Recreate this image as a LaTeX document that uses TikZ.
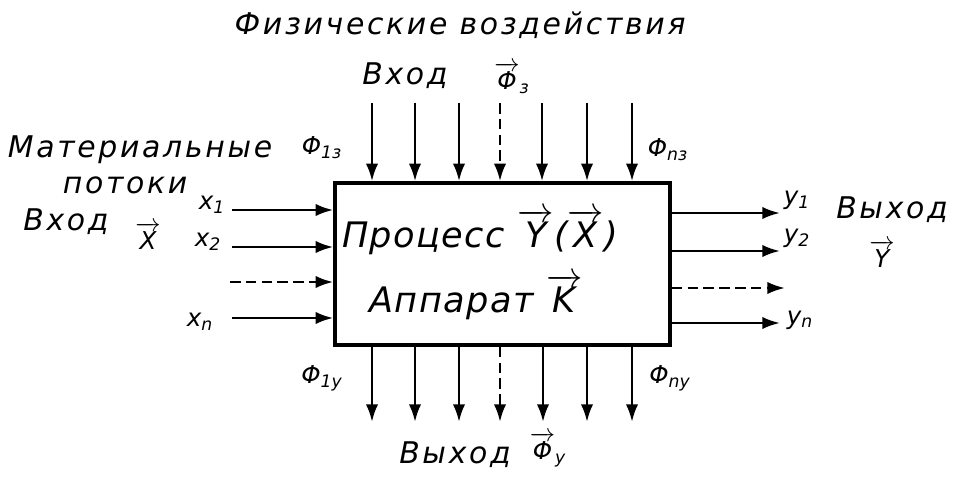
\documentclass[tikz,border=0pt]{standalone}
\usepackage{amsmath}
\usepackage{fontspec}
\setmainfont{DejaVu Sans}
\usetikzlibrary{arrows.meta, positioning}
\newcommand{\vecsym}[1]{$\overrightarrow{\text{#1}}$}

\begin{document}
\begin{tikzpicture}[
  x=0.02cm, y=-0.02cm,
  >={Latex[length=10pt, width=7pt]},
  flow/.style={->, line width=1.5pt},
  dflow/.style={->, line width=1.5pt, dash pattern=on 6pt off 3pt},
  procbox/.style={
    rectangle, draw, line width=2pt,
    minimum width=6.7cm, minimum height=3.24cm, inner sep=0pt
  },
  lbl/.style={font=\fontsize{17}{19}\selectfont\itshape\addfontfeatures{LetterSpace=9}, inner sep=0pt},
  sym/.style={font=\fontsize{14}{16}\selectfont\itshape, inner sep=0pt},
  inlbl/.style={font=\fontsize{20}{22}\selectfont\itshape\addfontfeatures{LetterSpace=4}, inner sep=0pt}
]
  \useasboundingbox (0,0) rectangle (953,479);
  \node[procbox] (box) at (502.5,264) {};
  \node[inlbl] (proc) at (480,232) {Процесс \vecsym{Y}(\vecsym{X})};
  \node[inlbl] (app)  at (476,297) {Аппарат \vecsym{K}};

  % physical inputs
  \node[lbl] (phys)  at (460,25) {Физические воздействия};
  \node[lbl] (inphi) at (405,76) {Вход};
  \node[sym] (phiz)  at (512,78) {\vecsym{Φ}\textsubscript{з}};
  \node[sym] (phi1z) at (322,148) {Φ\textsubscript{1з}};
  \node[sym] (phinz) at (668,150) {Φ\textsubscript{nз}};
  \coordinate (t1) at (372,103);
  \coordinate (t2) at (415,103);
  \coordinate (t3) at (459,103);
  \coordinate (t4) at (500,103);
  \coordinate (t5) at (542,103);
  \coordinate (t6) at (587,103);
  \coordinate (t7) at (632,103);
  \draw[flow]  (t1) -- (t1 |- box.north);
  \draw[flow]  (t2) -- (t2 |- box.north);
  \draw[flow]  (t3) -- (t3 |- box.north);
  \draw[dflow] (t4) -- (t4 |- box.north);
  \draw[flow]  (t5) -- (t5 |- box.north);
  \draw[flow]  (t6) -- (t6 |- box.north);
  \draw[flow]  (t7) -- (t7 |- box.north);

  % material inputs
  \node[lbl] (mat)  at (140,150) {Материальные};
  \node[lbl] (pot)  at (125,185) {потоки};
  \node[lbl] (inx)  at (66,222)  {Вход};
  \node[sym] (xvec) at (148,236) {\vecsym{X}};
  \node[sym] (x1) at (212,205) {x\textsubscript{1}};
  \node[sym] (x2) at (208,242) {x\textsubscript{2}};
  \node[sym] (xn) at (200,322) {x\textsubscript{n}};
  \coordinate (l1) at (232,210);
  \coordinate (l2) at (232,247);
  \coordinate (l3) at (230,282);
  \coordinate (l4) at (232,318);
  \draw[flow]  (l1) -- (l1 -| box.west);
  \draw[flow]  (l2) -- (l2 -| box.west);
  \draw[dflow] (l3) -- (l3 -| box.west);
  \draw[flow]  (l4) -- (l4 -| box.west);

  % material outputs
  \node[lbl] (outy) at (892,210) {Выход};
  \node[sym] (yvec) at (882,254) {\vecsym{Y}};
  \node[sym] (y1) at (797,200) {y\textsubscript{1}};
  \node[sym] (y2) at (797,238) {y\textsubscript{2}};
  \node[sym] (yn) at (800,320) {y\textsubscript{n}};
  \coordinate (r1) at (780,213);
  \coordinate (r2) at (780,251);
  \coordinate (r3) at (785,288);
  \coordinate (r4) at (780,323);
  \draw[flow]  (r1 -| box.east) -- (r1);
  \draw[flow]  (r2 -| box.east) -- (r2);
  \draw[dflow] (r3 -| box.east) -- (r3);
  \draw[flow]  (r4 -| box.east) -- (r4);

  % physical outputs
  \node[lbl] (outphi) at (455,455) {Выход};
  \node[sym] (phiy)   at (548,450) {\vecsym{Φ}\textsubscript{у}};
  \node[sym] (phi1y)  at (322,378) {Φ\textsubscript{1у}};
  \node[sym] (phiny)  at (670,378) {Φ\textsubscript{nу}};
  \coordinate (b1) at (372,422);
  \coordinate (b2) at (415,422);
  \coordinate (b3) at (459,422);
  \coordinate (b4) at (500,422);
  \coordinate (b5) at (543,422);
  \coordinate (b6) at (587,422);
  \coordinate (b7) at (632,422);
  \draw[flow]  (b1 |- box.south) -- (b1);
  \draw[flow]  (b2 |- box.south) -- (b2);
  \draw[flow]  (b3 |- box.south) -- (b3);
  \draw[dflow] (b4 |- box.south) -- (b4);
  \draw[flow]  (b5 |- box.south) -- (b5);
  \draw[flow]  (b6 |- box.south) -- (b6);
  \draw[flow]  (b7 |- box.south) -- (b7);
\end{tikzpicture}
\end{document}
